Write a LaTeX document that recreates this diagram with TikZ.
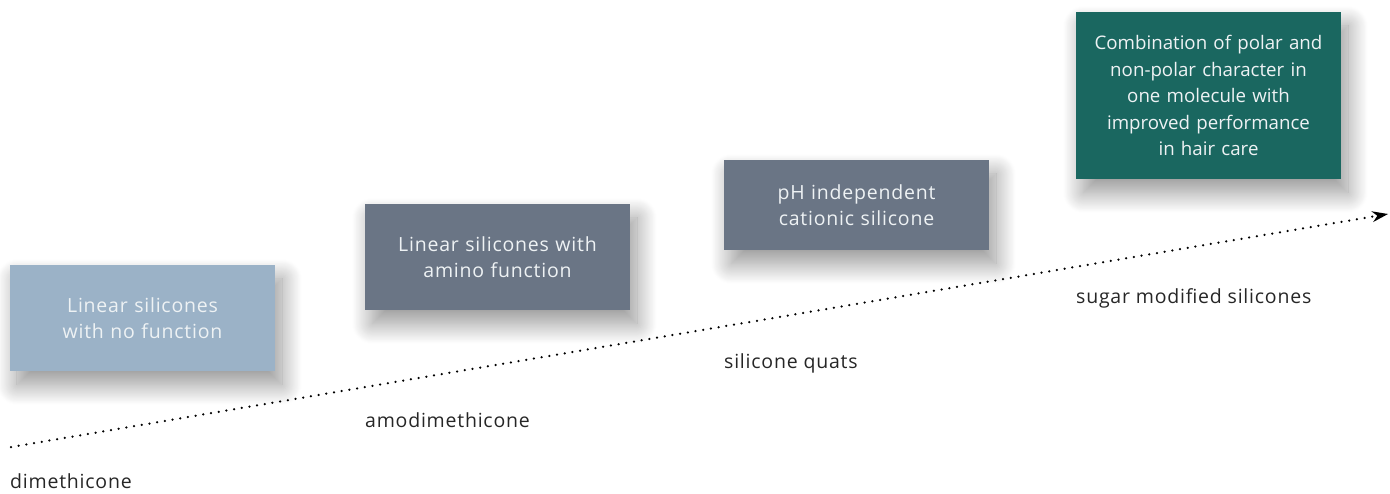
\documentclass[tikz,border=0pt]{standalone}
\usepackage{fontspec}
\setmainfont{Open Sans}
\newfontfamily\wide[LetterSpace=4]{Open Sans}
\usetikzlibrary{shadows.blur,arrows.meta}
\definecolor{cLight}{HTML}{9BB2C7}
\definecolor{cSlate}{HTML}{6A7585}
\definecolor{cTeal}{HTML}{1A6760}
\definecolor{cTxt}{HTML}{EEF2F4}
\tikzset{
  box/.style={rectangle, inner sep=0pt, align=center, text=cTxt,
    font=\wide\fontsize{19.5}{26.5}\selectfont,
    blur shadow={shadow xshift=7pt, shadow yshift=-14pt, shadow blur radius=20pt, shadow blur steps=25, shadow opacity=42}},
  tealbox/.style={box, font=\fontsize{18.7}{26.5}\selectfont},
  lbl/.style={anchor=west, inner sep=0pt, font=\wide\fontsize{19.5}{22}\selectfont, text=black!85},
  trend/.style={line width=2.5pt, line cap=round, dash pattern=on 0pt off 7.8pt,
    -{Stealth[length=16pt,width=11pt,line width=0pt]}}
}
\begin{document}
\begin{tikzpicture}[x=1pt,y=1pt]
\useasboundingbox (0,0) rectangle (1390,493);
\node[box, fill=cLight, minimum width=265pt, minimum height=106pt, text width=255pt] (b1) at (142.5,175) {Linear silicones\\with no function};
\node[box, fill=cSlate, minimum width=265pt, minimum height=106pt, text width=255pt] (b2) at (497.5,236) {Linear silicones with\\amino function};
\node[box, fill=cSlate, minimum width=265pt, minimum height=90pt, text width=255pt] (b3) at (856.5,288) {pH independent\\cationic silicone};
\node[tealbox, fill=cTeal, minimum width=265pt, minimum height=167pt, text width=260pt] (b4) at (1208.5,397.5) {Combination of polar and\\non-polar character in\\one molecule with\\improved performance\\in hair care};
\coordinate (s) at (11,46);
\coordinate (e) at (1388,279);
\draw[trend] (s) -- (e);
\node[lbl] (l1) at (10,12) {dimethicone};
\node[lbl] (l2) at (365,73) {amodimethicone};
\node[lbl] (l3) at (724,130) {silicone quats};
\node[lbl] (l4) at (1076,195) {sugar modified silicones};
\end{tikzpicture}
\end{document}
